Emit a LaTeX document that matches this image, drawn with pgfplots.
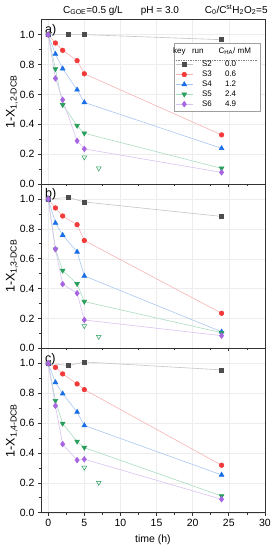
\documentclass[border=0pt]{standalone}
\usepackage{pgfplots}
\pgfplotsset{compat=1.18}
\usepgfplotslibrary{groupplots}
\usepackage{fontspec}
\setmainfont{Liberation Sans}
\definecolor{sAm}{HTML}{4D4D4D}\definecolor{sAl}{HTML}{C4C4C4}
\definecolor{sBm}{HTML}{F23A3A}\definecolor{sBl}{HTML}{F7B3B3}
\definecolor{sCm}{HTML}{1A6FE6}\definecolor{sCl}{HTML}{A9C7F0}
\definecolor{sDm}{HTML}{2A9E5C}\definecolor{sDl}{HTML}{A9DCBF}
\definecolor{sEm}{HTML}{A765E0}\definecolor{sEl}{HTML}{D9C2F0}
\pgfplotsset{
  sA/.style={color=sAl, line width=0.6pt, mark=square*, mark size=2pt, mark options={fill=sAm, draw=sAm, solid}},
  sB/.style={color=sBl, line width=0.6pt, mark=*, mark size=2.3pt, mark options={fill=sBm, draw=sBm, solid}},
  sC/.style={color=sCl, line width=0.6pt, mark=triangle*, mark size=2.7pt, mark options={fill=sCm, draw=sCm, solid}},
  sD/.style={color=sDl, line width=0.6pt, mark=triangle*, mark size=2.7pt, mark options={fill=sDm, draw=sDm, solid, rotate=180}},
  sE/.style={color=sEl, line width=0.6pt, mark=diamond*, mark size=2.8pt, mark options={fill=sEm, draw=sEm, solid}},
  sO/.style={only marks, mark=triangle, mark size=2.7pt, mark options={draw=sDm, fill=none, rotate=180, line width=0.5pt}},
}
\newcommand{\lent}[2]{\hspace*{7pt}\makebox[23pt][l]{#1}#2}
\begin{document}
\begin{tikzpicture}
\begin{groupplot}[
  group style={group size=1 by 3, vertical sep=0pt, xticklabels at=edge bottom},
  width=224pt, height=164.4pt, scale only axis,
  xmin=-1, xmax=30, ymin=0, ymax=1.1,
  xtick={0,5,10,15,20,25,30}, ytick={0,0.2,0.4,0.6,0.8,1.0},
  minor x tick num=1, minor y tick num=1,
  grid=major, major grid style={gray!14, line width=0.4pt},
  tick align=outside, tick pos=left,
  major tick length=3pt, minor tick length=1.8pt,
  axis line style={black!80, line width=0.7pt},
  every tick/.style={black!80, line width=0.6pt},
  yticklabel style={/pgf/number format/.cd, fixed, fixed zerofill, precision=1},
  /pgf/number format/assume math mode=true,
  tick label style={font=\fontsize{10.5}{12}\selectfont},
  ylabel style={font=\fontsize{12.5}{14}\selectfont, at={(rel axis cs:-0.1295,0.5)}, anchor=center},
  xlabel style={font=\fontsize{10.5}{12}\selectfont, at={(rel axis cs:0.5,-0.1673)}, anchor=center},
  clip=false,
]
\nextgroupplot[ylabel={1-X\textsubscript{1,2-DCB}},
  legend style={at={(0.982,0.858)}, anchor=north east, draw=gray!75, line width=0.6pt, fill=white,
    font=\fontsize{8}{9}\selectfont, row sep=-1.2pt, inner sep=1.5pt},
  legend cell align=left]
\addlegendimage{empty legend}
\addlegendentry{\hspace*{-22pt}\begin{tabular}{@{}l@{}}key\hspace{6.5pt}run\hspace{15pt}C\textsubscript{HA}/ mM\\[-2pt]{\color{gray}\hbox to 84pt{\xleaders\hbox to 2.4pt{\hss\rule{1.5pt}{0.45pt}\hss}\hfill}}\end{tabular}}
\addplot[sA] coordinates {(0,1.0)(2.8,1.0)(5,1.0)(24,0.966)};
\addlegendentry{\lent{S2}{0.0}}
\addplot[sB] coordinates {(0,1.0)(1,0.944)(2,0.895)(4,0.826)(5,0.738)(24,0.329)};
\addlegendentry{\lent{S3}{0.6}}
\addplot[sC] coordinates {(0,1.0)(1,0.870)(2,0.772)(4,0.631)(5,0.546)(24,0.239)};
\addlegendentry{\lent{S4}{1.2}}
\addplot[sD] coordinates {(0,1.0)(1,0.770)(2,0.530)(4,0.391)(5,0.340)(24,0.105)};
\addlegendentry{\lent{S5}{2.4}}
\addplot[sE] coordinates {(0,1.0)(1,0.707)(2,0.564)(4,0.289)(5,0.235)(24,0.078)};
\addlegendentry{\lent{S6}{4.9}}
\addplot[sO, forget plot] coordinates {(5,0.179)(7,0.105)};
\node[anchor=north west, inner sep=0pt, font=\fontsize{12.5}{13}\selectfont] at (rel axis cs:0.018,0.972) {a)};
\node[anchor=base, inner sep=0pt, font=\fontsize{10}{12}\selectfont] at (rel axis cs:0.232,1.039) {C\textsubscript{GOE}=0.5 g/L};
\node[anchor=base, inner sep=0pt, font=\fontsize{10}{12}\selectfont] at (rel axis cs:0.531,1.039) {pH = 3.0};
\node[anchor=base east, inner sep=0pt, font=\fontsize{10}{12}\selectfont] at (rel axis cs:1.013,1.039) {C\textsubscript{0}/C\textsuperscript{st}H\textsubscript{2}O\textsubscript{2}=5};
\nextgroupplot[ylabel={1-X\textsubscript{1,3-DCB}}]
\addplot[sA] coordinates {(0,1.0)(2.8,1.01)(5,0.98)(24,0.883)};
\addplot[sB] coordinates {(0,1.0)(1,0.940)(2,0.886)(4,0.828)(5,0.722)(24,0.235)};
\addplot[sC] coordinates {(0,1.0)(1,0.839)(2,0.758)(4,0.646)(5,0.485)(24,0.111)};
\addplot[sD] coordinates {(0,1.0)(1,0.664)(2,0.521)(4,0.432)(5,0.313)(24,0.105)};
\addplot[sE] coordinates {(0,1.0)(1,0.664)(2,0.430)(4,0.369)(5,0.190)(24,0.085)};
\addplot[sO] coordinates {(5,0.150)(7,0.078)};
\node[anchor=north west, inner sep=0pt, font=\fontsize{12.5}{13}\selectfont] at (rel axis cs:0.018,0.972) {b)};
\nextgroupplot[ylabel={1-X\textsubscript{1,4-DCB}}, xlabel={time (h)}]
\addplot[sA] coordinates {(0,1.0)(2.8,0.985)(5,1.009)(24,0.956)};
\addplot[sB] coordinates {(0,1.0)(1,0.973)(2,0.929)(4,0.862)(5,0.824)(24,0.318)};
\addplot[sC] coordinates {(0,1.0)(1,0.872)(2,0.797)(4,0.674)(5,0.584)(24,0.253)};
\addplot[sD] coordinates {(0,1.0)(1,0.750)(2,0.597)(4,0.477)(5,0.436)(24,0.112)};
\addplot[sE] coordinates {(0,1.0)(1,0.716)(2,0.459)(4,0.352)(5,0.358)(24,0.090)};
\addplot[sO] coordinates {(5,0.302)(7,0.201)};
\node[anchor=north west, inner sep=0pt, font=\fontsize{12.5}{13}\selectfont] at (rel axis cs:0.018,0.972) {c)};
\end{groupplot}
\pgfresetboundingbox
\path ([xshift=-41pt,yshift=19.7pt]group c1r1.north west) rectangle ([xshift=8pt,yshift=-37.3pt]group c1r3.south east);
\end{tikzpicture}
\end{document}
